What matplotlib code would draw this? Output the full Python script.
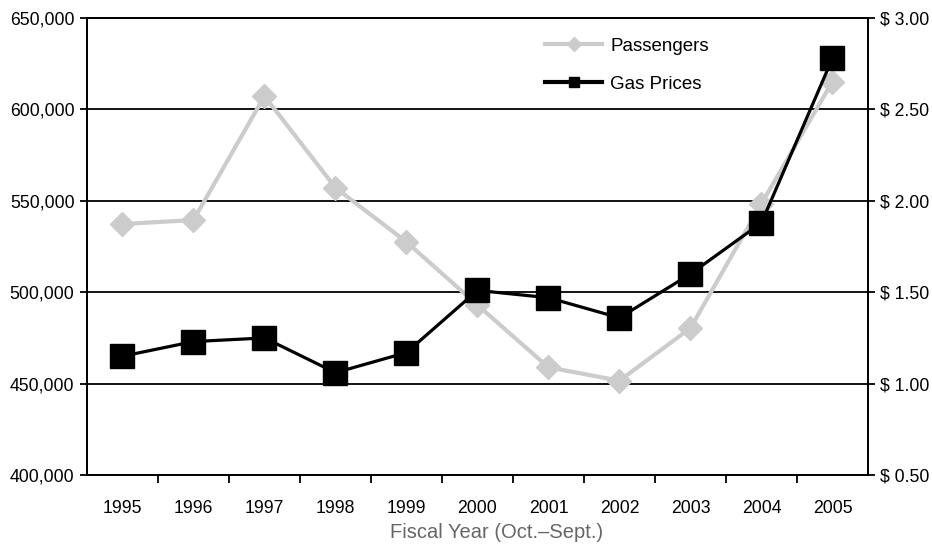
import matplotlib
matplotlib.use("Agg")
import matplotlib.pyplot as plt
from matplotlib.lines import Line2D
from matplotlib.ticker import FuncFormatter, FixedLocator

plt.rcParams['font.family'] = ['Liberation Sans', 'DejaVu Sans']

years = ['1995', '1996', '1997', '1998', '1999', '2000', '2001', '2002', '2003', '2004', '2005']
passengers = [537300, 539500, 607300, 557200, 527500, 493000, 458900, 451600, 480400, 548500, 615200]
gas_prices = [1.15, 1.23, 1.25, 1.06, 1.17, 1.51, 1.47, 1.36, 1.60, 1.88, 2.78]

gray = '#cccccc'
x = list(range(len(years)))

fig, ax = plt.subplots(figsize=(9.32, 5.48), dpi=100)
fig.subplots_adjust(left=0.0933, right=0.9313, top=0.967, bottom=0.1332)

ax.plot(x, passengers, color=gray, lw=3, marker='D', ms=12, zorder=3)
ax.set_xlim(-0.5, len(years) - 0.5)
ax.set_ylim(400000, 650000)
ax.set_yticks(range(400000, 650001, 50000))
ax.yaxis.set_major_formatter(FuncFormatter(lambda v, p: f'{int(v):,}'))
for v in range(450000, 650000, 50000):
    ax.axhline(v, color='black', lw=1.3, zorder=1)

ax.set_xticks(x)
ax.set_xticklabels(years)
ax.xaxis.set_minor_locator(FixedLocator([i + 0.5 for i in x[:-1]]))
ax.tick_params(axis='x', which='major', length=0, pad=18, labelsize=12.7)
ax.tick_params(axis='x', which='minor', length=6, width=1.3, direction='out')
ax.tick_params(axis='y', length=5, width=1.3, pad=4, labelsize=12.7)

ax2 = ax.twinx()
ax2.plot(x, gas_prices, color='black', lw=2.3, marker='s', ms=17, zorder=4)
ax2.set_ylim(0.5, 3.0)
ax2.set_yticks([0.5, 1.0, 1.5, 2.0, 2.5, 3.0])
ax2.yaxis.set_major_formatter(FuncFormatter(lambda v, p: f'$ {v:.2f}'))
ax2.tick_params(axis='y', length=5, width=1.3, pad=4, labelsize=12.7)

for a in (ax, ax2):
    for s in a.spines.values():
        s.set_linewidth(1.3)

fig.text(0.533, 0.018, 'Fiscal Year (Oct.\u2013Sept.)', color='#666666',
         fontsize=14.5, ha='center', va='baseline')

handles = [Line2D([], [], color=gray, lw=3, marker='D', ms=7),
           Line2D([], [], color='black', lw=3, marker='s', ms=7)]
fig.legend(handles, ['Passengers', 'Gas Prices'], loc='upper left',
           bbox_to_anchor=(0.5848, 0.931), frameon=False, fontsize=13.5,
           handlelength=3.04, handletextpad=0.43, labelspacing=1.12,
           borderpad=0, borderaxespad=0)

fig.savefig('out.png', dpi=100)
